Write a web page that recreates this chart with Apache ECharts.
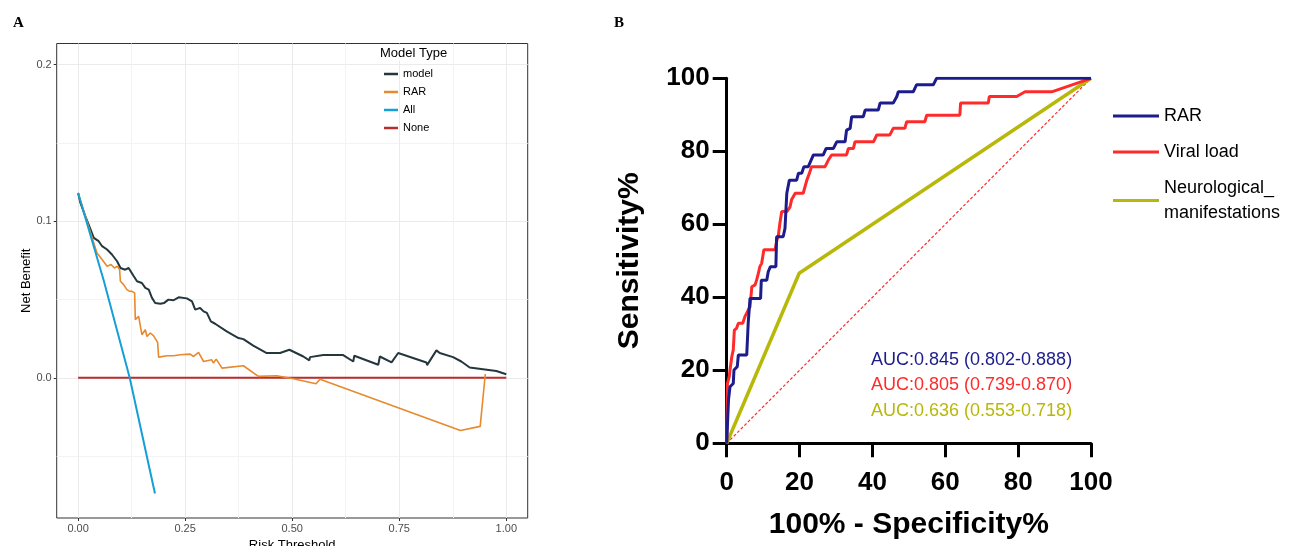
<!DOCTYPE html>
<html lang="en">
<head>
<meta charset="UTF-8">
<title>Decision curve and ROC</title>
<style>
  html, body { margin: 0; padding: 0; background: #fff; }
  #chart { width: 1294px; height: 546px; }
</style>
<script src="https://cdn.jsdelivr.net/npm/echarts@6.0.0/dist/echarts.min.js"></script>
</head>
<body>
<div id="chart"></div>
<script>
// ---- panel A: decision curves (threshold, net benefit) ----
var modelCurve = [[0, 0.118], [0.005, 0.112], [0.017, 0.103], [0.029, 0.0947], [0.0365, 0.0893], [0.048, 0.0872],
  [0.056, 0.084], [0.0676, 0.0819], [0.079, 0.0787], [0.091, 0.0744], [0.099, 0.0701], [0.110, 0.069],
  [0.118, 0.0701], [0.130, 0.0648], [0.1375, 0.0616], [0.149, 0.0605], [0.157, 0.0574], [0.165, 0.0563],
  [0.1725, 0.051], [0.180, 0.0478], [0.192, 0.0473], [0.201, 0.0478], [0.211, 0.0499], [0.223, 0.0495],
  [0.2347, 0.0514], [0.254, 0.0507], [0.266, 0.0488], [0.2735, 0.0435], [0.285, 0.0446], [0.293, 0.0424],
  [0.3007, 0.0414], [0.310, 0.036], [0.320, 0.0345], [0.347, 0.0296], [0.3745, 0.0254], [0.386, 0.0247],
  [0.409, 0.0205], [0.4405, 0.0158], [0.4716, 0.0158], [0.4934, 0.0179], [0.526, 0.0136], [0.540, 0.0111],
  [0.5416, 0.0132], [0.5726, 0.0145], [0.619, 0.0145], [0.6426, 0.0104], [0.645, 0.0141], [0.701, 0.0083],
  [0.7047, 0.0136], [0.732, 0.0098], [0.7475, 0.0158], [0.8135, 0.0098], [0.815, 0.0081], [0.8368, 0.0175],
  [0.8446, 0.0158], [0.8757, 0.0132], [0.895, 0.0104], [0.9145, 0.0066], [0.9456, 0.0055], [0.9767, 0.0043],
  [1.0, 0.0023]];
var rarCurve = [[0, 0.118], [0.044, 0.0797], [0.056, 0.0755], [0.0676, 0.0712], [0.077, 0.0723], [0.0847, 0.0701],
  [0.092, 0.0712], [0.097, 0.069], [0.0987, 0.0616], [0.1064, 0.0595], [0.114, 0.0563], [0.1204, 0.0552],
  [0.126, 0.0552], [0.132, 0.0542], [0.1336, 0.0371], [0.1414, 0.0392], [0.145, 0.0392], [0.149, 0.0275],
  [0.157, 0.0307], [0.1608, 0.0264], [0.1686, 0.0286], [0.176, 0.0269], [0.1857, 0.0226], [0.188, 0.0132],
  [0.2075, 0.0141], [0.223, 0.0141], [0.2385, 0.0147], [0.2618, 0.0151], [0.2696, 0.0136], [0.2813, 0.0162],
  [0.293, 0.0104], [0.312, 0.0115], [0.316, 0.0094], [0.3225, 0.0119], [0.336, 0.0062], [0.386, 0.0077],
  [0.421, 0.0009], [0.4638, 0.0013], [0.5027, -0.0006], [0.5556, -0.0038], [0.565, -0.0009],
  [0.893, -0.0336], [0.939, -0.031], [0.951, 0.0024]];
var allCurve = [[0, 0.118], [0.06, 0.062], [0.1205, 0], [0.1795, -0.0739]];
var noneCurve = [[0, 0], [1, 0]];
var dcaNames = ['model', 'RAR', 'All', 'None'];
var dcaColors = ['#23373d', '#e8892e', '#149fd7', '#bb2d2d'];
var dcaTicksX = [0, 0.25, 0.5, 0.75, 1];
var dcaTicksY = [0, 0.1, 0.2];

// ---- panel B: ROC curves (100% - specificity, sensitivity) ----
var rocRar = [[0, 0], [0.3, 7.3], [0.5, 11.9], [0.9, 15.5], [1.8, 16.4], [2.0, 20.1], [2.9, 21], [3.2, 24.2],
  [5.5, 24.2], [5.9, 32.9], [6.4, 39.7], [9.3, 39.7], [9.5, 44.7], [11, 44.7], [11.4, 47], [12, 48.4],
  [13.5, 48.4], [13.7, 56.6], [15.5, 56.6], [16, 58.9], [16.5, 68.5], [17.2, 72.1], [19.2, 72.1], [19.7, 74],
  [20.6, 74], [21.2, 75.8], [22.4, 75.8], [23.8, 79], [26.5, 79], [27.3, 80.8], [29.3, 80.8], [30.2, 82.6],
  [32.5, 82.6], [32.9, 85.8], [33.9, 86.3], [34.3, 89.5], [37.5, 89.5], [38, 91.3], [41.6, 91.3], [42.1, 93.2],
  [45.7, 93.2], [46.7, 95], [47.1, 96.3], [51.2, 96.3], [52.1, 98.2], [56.7, 98.2], [57.6, 100], [100, 100]];
var rocViral = [[0, 0], [0.2, 16.4], [0.7, 18.3], [0.9, 20.1], [1.4, 23.7], [1.8, 25.6], [2.1, 31], [2.7, 31.5],
  [3.2, 32.9], [4.4, 32.9], [5, 34.7], [5.9, 36.5], [6.4, 37.4], [6.9, 42.9], [7.8, 43.4], [8.2, 44.7],
  [8.7, 46.6], [9.1, 48.4], [9.6, 49.3], [10.2, 53], [13.3, 53], [13.7, 55.3], [14.2, 57.1], [14.6, 60.3],
  [15.1, 63.5], [16.5, 63.5], [17.4, 64.8], [17.8, 66.7], [18.8, 68.5], [21, 68.5], [21.5, 70.3], [22, 72.1],
  [22.7, 74], [23.3, 75.8], [27, 75.8], [27.9, 77.6], [28.8, 79], [32.9, 79], [33.4, 80.8], [34.8, 80.8],
  [35.2, 82.6], [40.3, 82.6], [41.2, 84.5], [44.8, 84.5], [45.7, 86.3], [48.9, 86.3], [49.4, 88.1], [54.4, 88.1],
  [54.9, 89.9], [64, 89.9], [64.2, 93.2], [71.8, 93.2], [72.1, 95], [79.6, 95], [81.9, 96.3], [89.2, 96.3],
  [100, 100]];
var rocNeuro = [[0, 0], [19.9, 46.6], [100, 100]];
var rocChance = [[0, 0], [100, 100]];
var rocIds = ['rocRar', 'rocViral', 'rocNeuro'];
var rocLabels = ['RAR', 'Viral load', 'Neurological_\nmanifestations'];
var rocColors = ['#1c1c8c', '#ff2b2b', '#b8b80a'];
var aucLabels = ['AUC:0.845 (0.802-0.888)', 'AUC:0.805 (0.739-0.870)', 'AUC:0.636 (0.553-0.718)'];
var rocTicks = [0, 20, 40, 60, 80, 100];

var chart = echarts.init(document.getElementById('chart'));

var dcaData = [modelCurve, rarCurve, allCurve, noneCurve];
var dcaWidths = [2, 1.6, 2, 2];
var series = [];
dcaNames.forEach(function (name, i) {
  series.push({
    name: name, type: 'line', xAxisIndex: 0, yAxisIndex: 0,
    data: dcaData[i], symbol: 'none', color: dcaColors[i],
    lineStyle: { width: dcaWidths[i], color: dcaColors[i] }, z: 3 + (i === 3 ? -1 : 0)
  });
});
series.push({
  name: 'chance', type: 'line', xAxisIndex: 1, yAxisIndex: 1, data: rocChance, symbol: 'none',
  lineStyle: { width: 1.2, color: '#ff2b2b', type: [3, 2] }, silent: true
});
var rocData = [rocRar, rocViral, rocNeuro];
rocIds.forEach(function (id, i) {
  series.push({
    name: id, type: 'line', xAxisIndex: 1, yAxisIndex: 1, data: rocData[i], symbol: 'none',
    color: rocColors[i], lineStyle: { width: i === 2 ? 3.5 : 3, color: rocColors[i] }, z: 5 - i
  });
});

var labelMap = {};
rocIds.forEach(function (id, i) { labelMap[id] = rocLabels[i]; });

var graphics = [
  { type: 'text', x: 13, y: 23, style: { text: 'A', font: 'bold 15px "Liberation Serif", serif', fill: '#000', verticalAlign: 'middle' } },
  { type: 'text', x: 614, y: 23, style: { text: 'B', font: 'bold 15px "Liberation Serif", serif', fill: '#000', verticalAlign: 'middle' } },
  { type: 'text', x: 378, y: 53, z: 10, style: { text: 'Model Type', font: '13px "Liberation Sans", Arial, sans-serif', fill: '#000',
      verticalAlign: 'middle', backgroundColor: '#fff', padding: [1, 2] } }
];
aucLabels.forEach(function (t, i) {
  graphics.push({ type: 'text', x: 871, y: [360, 385.5, 411.5][i],
    style: { text: t, font: '18px "Liberation Sans", Arial, sans-serif', fill: rocColors[i], verticalAlign: 'middle' } });
});

var sans = '"Liberation Sans", Arial, sans-serif';

chart.setOption({
  animation: false,
  backgroundColor: '#fff',
  grid: [
    { left: 56.7, top: 43.5, width: 471, height: 474.5, show: true, borderColor: '#333', borderWidth: 1, outerBoundsMode: 'none' },
    { left: 726.7, top: 78.3, width: 364.3, height: 365, outerBoundsMode: 'none' }
  ],
  xAxis: [
    {
      gridIndex: 0, type: 'value', min: -0.05, max: 1.05, splitNumber: 4, minInterval: 0.25, maxInterval: 0.25,
      axisLine: { show: false, onZero: false },
      axisTick: { show: true, length: 3, lineStyle: { color: '#333' }, customValues: dcaTicksX },
      axisLabel: { customValues: dcaTicksX, margin: 5, fontSize: 11, color: '#4d4d4d', fontFamily: sans,
        formatter: function (v) { return v.toFixed(2); } },
      splitLine: { show: true, lineStyle: { color: '#ebebeb', width: 1 } },
      minorTick: { show: false, splitNumber: 2 },
      minorSplitLine: { show: true, lineStyle: { color: '#f3f3f3', width: 1 } },
      name: 'Risk Threshold', nameLocation: 'middle', nameGap: 19,
      nameTextStyle: { fontSize: 13, color: '#000', fontFamily: sans }
    },
    {
      gridIndex: 1, type: 'value', min: 0, max: 100, interval: 20,
      axisLine: { show: true, onZero: false, lineStyle: { color: '#000', width: 3 } },
      axisTick: { show: true, length: 14, lineStyle: { color: '#000', width: 3 } },
      axisLabel: { margin: 27, fontSize: 26, fontWeight: 'bold', color: '#000', fontFamily: sans },
      splitLine: { show: false },
      name: '100% - Specificity%', nameLocation: 'middle', nameGap: 66,
      nameTextStyle: { fontSize: 30, fontWeight: 'bold', color: '#000', fontFamily: sans }
    }
  ],
  yAxis: [
    {
      gridIndex: 0, type: 'value', min: -0.0895, max: 0.2134, splitNumber: 3, minInterval: 0.1, maxInterval: 0.1,
      axisLine: { show: false, onZero: false },
      axisTick: { show: true, length: 3, lineStyle: { color: '#333' }, customValues: dcaTicksY },
      axisLabel: { customValues: dcaTicksY, margin: 5, fontSize: 11, color: '#4d4d4d', fontFamily: sans,
        formatter: function (v) { return v.toFixed(1); } },
      splitLine: { show: true, lineStyle: { color: '#ebebeb', width: 1 } },
      minorTick: { show: false, splitNumber: 2 },
      minorSplitLine: { show: true, lineStyle: { color: '#f3f3f3', width: 1 } },
      name: 'Net Benefit', nameLocation: 'middle', nameGap: 22,
      nameTextStyle: { fontSize: 13, color: '#000', fontFamily: sans }
    },
    {
      gridIndex: 1, type: 'value', min: 0, max: 100, interval: 20,
      axisLine: { show: true, onZero: false, lineStyle: { color: '#000', width: 3 } },
      axisTick: { show: true, length: 14, lineStyle: { color: '#000', width: 3 } },
      axisLabel: { margin: 17, fontSize: 26, fontWeight: 'bold', color: '#000', fontFamily: sans },
      splitLine: { show: false },
      name: 'Sensitivity%', nameLocation: 'middle', nameGap: 82,
      nameTextStyle: { fontSize: 30, fontWeight: 'bold', color: '#000', fontFamily: sans }
    }
  ],
  legend: [
    {
      data: dcaNames.map(function (n) { return { name: n, icon: 'rect' }; }),
      orient: 'vertical', left: 384, top: 67, padding: 0, itemWidth: 14, itemHeight: 2.5, itemGap: 4,
      selectedMode: false,
      textStyle: { fontSize: 11, color: '#000', fontFamily: sans, lineHeight: 14 }
    },
    {
      data: rocIds.map(function (n) { return { name: n, icon: 'rect' }; }),
      orient: 'vertical', left: 1113, top: 103.5, padding: 0, itemWidth: 46, itemHeight: 3, itemGap: 11,
      selectedMode: false,
      formatter: function (name) { return labelMap[name]; },
      textStyle: { fontSize: 18, color: '#000', fontFamily: sans, lineHeight: 25 }
    }
  ],
  graphic: graphics,
  series: series
});
</script>
</body>
</html>
